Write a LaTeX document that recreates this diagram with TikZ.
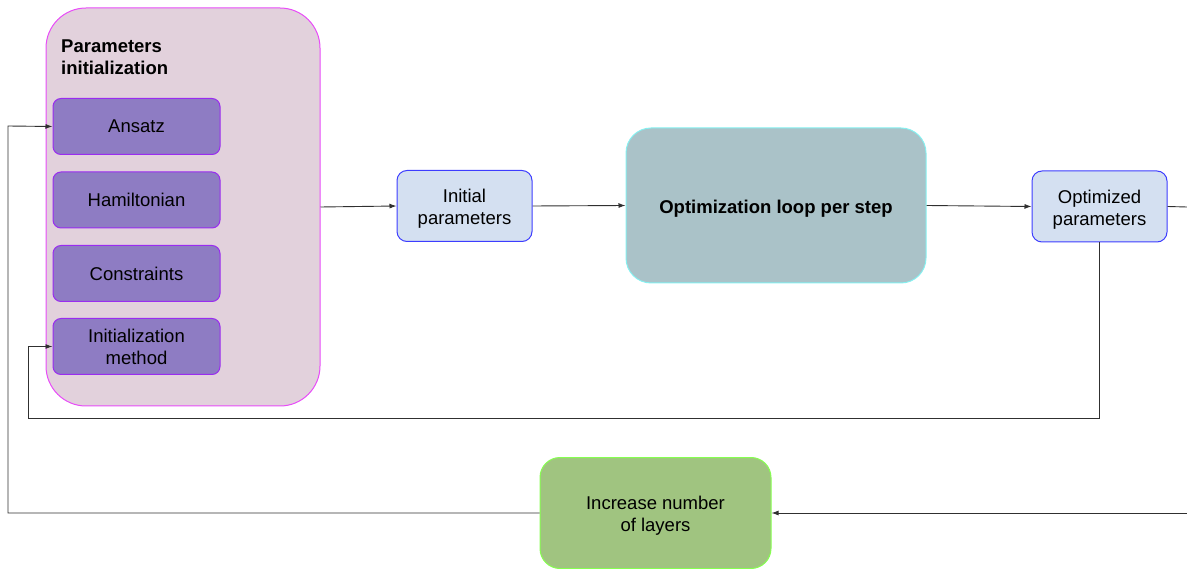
\documentclass[tikz,border=0pt]{standalone}
\usepackage{fontspec}
\setmainfont{Liberation Sans}
\usetikzlibrary{arrows.meta}
\definecolor{bigfill}{HTML}{E2D1DC}
\definecolor{bigdraw}{HTML}{E84CF8}
\definecolor{innerfill}{HTML}{8E7CC3}
\definecolor{innerdraw}{HTML}{9A2CF0}
\definecolor{bluefill}{HTML}{D4E0F1}
\definecolor{bluedraw}{HTML}{3D3DFF}
\definecolor{optfill}{HTML}{AAC2C8}
\definecolor{optdraw}{HTML}{86F0F0}
\definecolor{greenfill}{HTML}{A0C480}
\definecolor{greendraw}{HTML}{86FF50}
\definecolor{linecol}{HTML}{303030}
\tikzset{
  txt/.style={font=\fontsize{18.5}{22}\selectfont, align=center, inner sep=0pt},
  lowtxt/.style={txt, yshift=-3pt},
  bigbox/.style={draw=bigdraw, fill=bigfill, line width=1pt, rounded corners=40pt, inner sep=0pt},
  innerbox/.style={txt, draw=innerdraw, fill=innerfill, line width=1pt, rounded corners=8pt, minimum width=167pt, minimum height=56pt},
  bluebox/.style={txt, draw=bluedraw, fill=bluefill, line width=1pt, rounded corners=10pt, minimum width=135pt, minimum height=71pt},
  optbox/.style={txt, draw=optdraw, fill=optfill, line width=1pt, rounded corners=25pt, minimum width=300pt, minimum height=155pt},
  greenbox/.style={txt, draw=greendraw, fill=greenfill, line width=1pt, rounded corners=20pt, minimum width=231pt, minimum height=111pt},
  conn/.style={draw=linecol, line width=0.9pt},
  arr/.style={conn, -{Latex[length=7pt,width=5pt]}}
}
\begin{document}
\begin{tikzpicture}[x=1pt,y=-1pt]
\useasboundingbox (0,0) rectangle (1187,569);
\node[bigbox, minimum width=274pt, minimum height=398pt] (param) at (183,207) {};
\node[txt, anchor=north west, align=left, font=\fontsize{18.5}{22}\selectfont\bfseries] (title) at (61,39.5) {Parameters\\initialization};
\node[innerbox] (ansatz) at (136.5,126.5) {Ansatz};
\node[innerbox] (ham) at (136.5,200) {Hamiltonian};
\node[innerbox] (cons) at (136.5,273.5) {Constraints};
\node[innerbox] (initm) at (136.5,346.5) {Initialization\\method};
\node[bluebox, label={[lowtxt]center:{Initial\\parameters}}] (init) at (464.5,206) {};
\node[optbox, label={[lowtxt, font=\fontsize{18.5}{22}\selectfont\bfseries]center:{Optimization loop per step}}] (opt) at (776,205.5) {};
\node[bluebox, label={[lowtxt]center:{Optimized\\parameters}}] (optd) at (1099.5,206.5) {};
\node[greenbox, label={[lowtxt]center:{Increase number\\of layers}}] (green) at (655.5,513) {};
\coordinate (r1) at (1187,207);
\coordinate (r2) at (1187,513);
\coordinate (b2) at (28,418);
\coordinate (l1) at (8,126);
\draw[arr] (param.east) -- (init.west);
\draw[arr] (init.east) -- (opt.west);
\draw[arr] (opt.east) -- (optd.west);
\draw[conn] (optd.east) -- (r1);
\draw[arr] (optd.south) |- (b2) |- (initm.west);
\draw[arr] (r2) -- (green.east);
\draw[arr] (green.west) -| (l1) -- (ansatz.west);
\end{tikzpicture}
\end{document}
